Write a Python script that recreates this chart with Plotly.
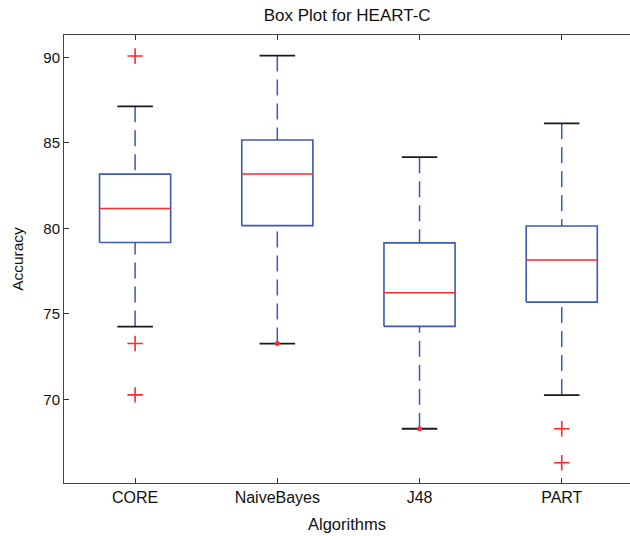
import plotly.graph_objects as go

# ---- data ----
algorithms = ["CORE", "NaiveBayes", "J48", "PART"]
q1 = [79.17, 80.16, 74.27, 75.69]
median = [81.16, 83.17, 76.24, 78.15]
q3 = [83.17, 85.16, 79.15, 80.14]
lower_whisker = [74.26, 73.27, 68.29, 70.26]
upper_whisker = [87.13, 90.10, 84.16, 86.14]
outlier_alg = ["CORE", "CORE", "CORE", "PART", "PART"]
outlier_val = [90.07, 73.27, 70.27, 68.29, 66.30]
dot_alg = ["NaiveBayes", "J48"]
dot_val = [73.27, 68.29]
y_ticks = [70, 75, 80, 85, 90]

BOX_W = 0.25   # half width of box
CAP_W = 0.125  # half width of whisker cap
BLUE = "#3d58b4"
RED = "#ff2a2a"
BLACK = "#1a1a1a"

pos = {a: i + 1 for i, a in enumerate(algorithms)}

fig = go.Figure()
for i, a in enumerate(algorithms):
    x0 = pos[a]
    # whiskers (dashed), drawn from cap toward box
    for yend, ybox in ((upper_whisker[i], q3[i]), (lower_whisker[i], q1[i])):
        fig.add_trace(go.Scatter(x=[x0, x0], y=[yend, ybox], mode="lines",
                                 line=dict(color=BLUE, width=1.5, dash="16px,8px"),
                                 hoverinfo="skip", showlegend=False))
        fig.add_trace(go.Scatter(x=[x0 - CAP_W, x0 + CAP_W], y=[yend, yend], mode="lines",
                                 line=dict(color=BLACK, width=1.8),
                                 hoverinfo="skip", showlegend=False))
    # box
    fig.add_trace(go.Scatter(
        x=[x0 - BOX_W, x0 + BOX_W, x0 + BOX_W, x0 - BOX_W, x0 - BOX_W],
        y=[q1[i], q1[i], q3[i], q3[i], q1[i]], mode="lines",
        line=dict(color=BLUE, width=1.6), hoverinfo="skip", showlegend=False))
    # median
    fig.add_trace(go.Scatter(x=[x0 - BOX_W, x0 + BOX_W], y=[median[i], median[i]],
                             mode="lines", line=dict(color=RED, width=1.5),
                             hoverinfo="skip", showlegend=False))

fig.add_trace(go.Scatter(x=[pos[a] for a in outlier_alg], y=outlier_val, mode="markers",
                         marker=dict(symbol="cross-thin", size=11, color=RED,
                                     line=dict(color=RED, width=1.6)),
                         showlegend=False))
fig.add_trace(go.Scatter(x=[pos[a] for a in dot_alg], y=dot_val, mode="markers",
                         marker=dict(symbol="circle", size=5, color=RED),
                         showlegend=False))

FONT = "Liberation Sans, Arial, sans-serif"
fig.update_layout(
    width=630, height=536,
    margin=dict(l=64, r=0, t=35, b=53),
    paper_bgcolor="white", plot_bgcolor="white",
    font=dict(family=FONT, color="#111111"),
    title=dict(text="Box Plot for HEART-C", x=0.551, xanchor="center",
               y=1 - 15 / 536, yanchor="middle", yref="container",
               font=dict(size=17, family=FONT, color="#111111")),
    xaxis=dict(range=[0.5, 4.48], tickvals=[pos[a] for a in algorithms],
               ticktext=algorithms, ticks="inside", ticklen=5, tickcolor="#333333",
               showline=True, linecolor="#444444", linewidth=1, mirror="ticks",
               showgrid=False, zeroline=False, tickfont=dict(size=16),
               title=dict(text="Algorithms", font=dict(size=16.5), standoff=13)),
    yaxis=dict(range=[65.12, 91.3], tickvals=y_ticks, ticks="inside", ticklen=5,
               tickcolor="#333333", showline=True, linecolor="#444444", linewidth=1,
               mirror=False, showgrid=False, zeroline=False, tickfont=dict(size=15),
               title=dict(text="Accuracy", font=dict(size=15.5), standoff=15)),
)

fig.write_html("out.html")
